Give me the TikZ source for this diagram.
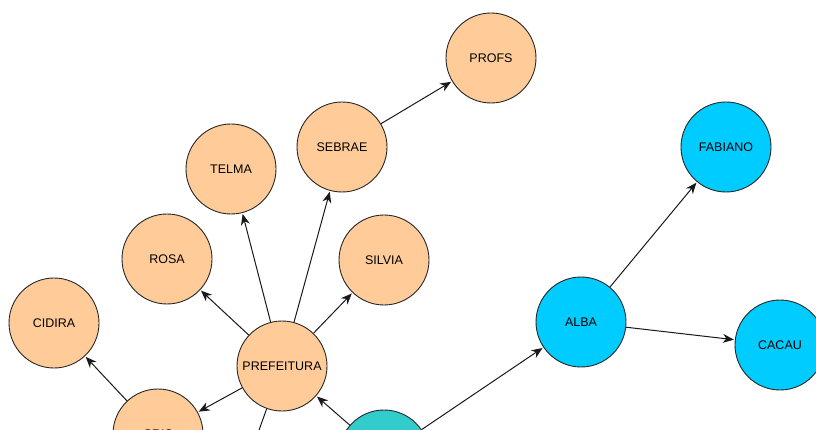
\documentclass[tikz,border=0pt]{standalone}
\usepackage{fontspec}
\setmainfont{Liberation Sans}
\usetikzlibrary{arrows.meta}
\definecolor{peach}{HTML}{FFCC99}
\definecolor{sky}{HTML}{00CCFF}
\definecolor{teal2}{HTML}{33CCCC}
\begin{document}
\begin{tikzpicture}[x=1pt,y=-1pt,
	pessoa/.style={circle,draw=black!85,line width=0.9pt,minimum size=90pt,inner sep=0pt,font=\fontsize{12.5}{14}\selectfont},
	laranja/.style={pessoa,fill=peach},
	azul/.style={pessoa,fill=sky},
	verde/.style={pessoa,fill=teal2},
	liga/.style={-{Stealth[length=11pt,width=9pt,inset=3.5pt]},draw=black!90,line width=1pt,shorten >=1pt}]
				\clip (0,0) rectangle (816,430);
				\coordinate (P1) at (491,58);
				\coordinate (P2) at (342,147);
				\coordinate (P3) at (231,169);
				\coordinate (P4) at (167,259);
				\coordinate (P5) at (384,260);
				\coordinate (P6) at (54,323);
				\coordinate (P7) at (282,366);
				\coordinate (P8) at (158,434);
				\coordinate (P9) at (384,455);
				\coordinate (P10) at (581,322);
				\coordinate (P11) at (726,147);
				\coordinate (P12) at (780,345);
				\coordinate (baixo) at (244,472);
				\node[laranja] (profs) at (P1) {PROFS};
				\node[laranja] (sebrae) at (P2) {SEBRAE};
				\node[laranja] (telma) at (P3) {TELMA};
				\node[laranja] (rosa) at (P4) {ROSA};
				\node[laranja] (silvia) at (P5) {SILVIA};
				\node[laranja] (cidira) at (P6) {CIDIRA};
				\node[laranja] (prefeitura) at (P7) {PREFEITURA};
				\node[laranja] (cris) at (P8) {CRIS};
				\node[verde] (centro) at (P9) {};
				\node[azul] (alba) at (P10) {ALBA};
				\node[azul] (fabiano) at (P11) {FABIANO};
				\node[azul] (cacau) at (P12) {CACAU};
				\draw[liga] (sebrae)--(profs);
				\draw[liga] (prefeitura)--(sebrae);
				\draw[liga] (prefeitura)--(telma);
				\draw[liga] (prefeitura)--(rosa);
				\draw[liga] (prefeitura)--(silvia);
				\draw[liga] (prefeitura)--(cris);
				\draw[liga] (cris)--(cidira);
				\draw[liga] (centro)--(prefeitura);
				\draw[liga] (centro)--(alba);
				\draw[liga] (alba)--(fabiano);
				\draw[liga] (alba)--(cacau);
				\draw[draw=black!90,line width=1pt] (prefeitura)--(baixo);
			\end{tikzpicture}
\end{document}
